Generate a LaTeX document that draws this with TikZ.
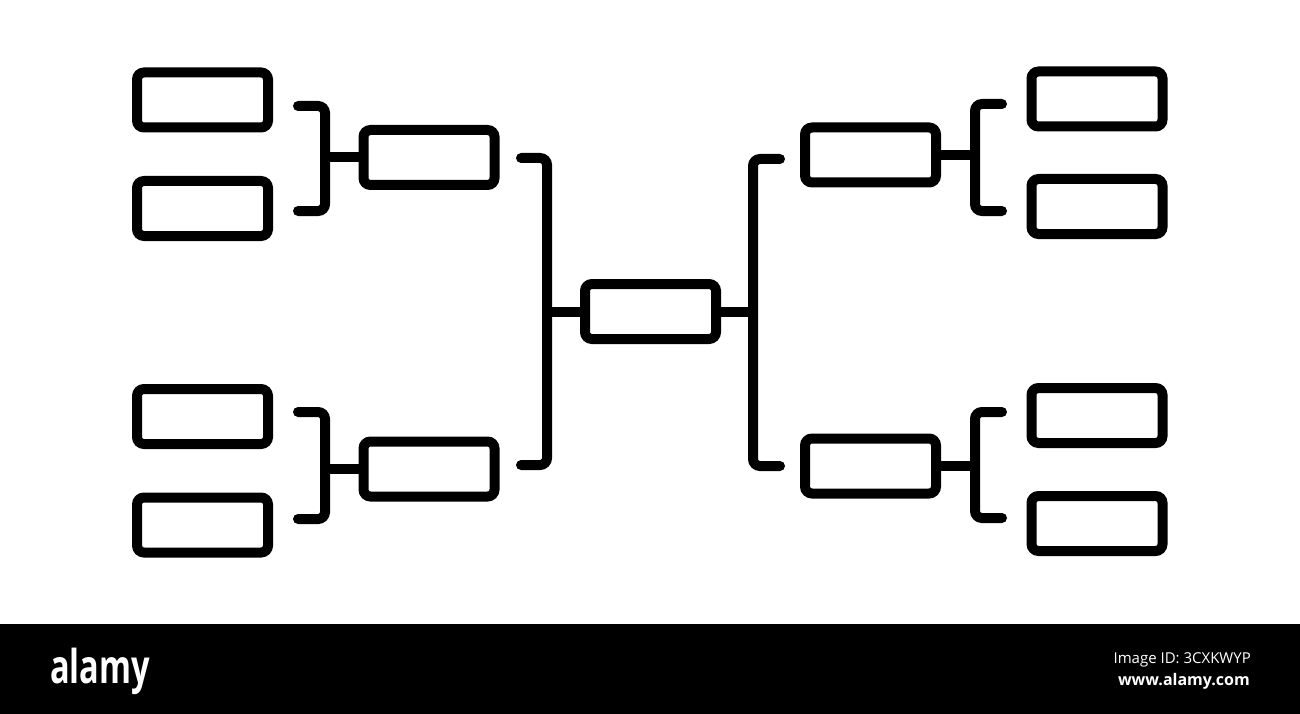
\documentclass[tikz,border=0pt]{standalone}
\usepackage{fontspec}
\setmainfont{Open Sans}
\usepackage{graphicx}
\usetikzlibrary{calc,positioning}

\tikzset{
  slot/.style={draw, line width=10pt, rounded corners=7pt, minimum width=131pt,
    minimum height=55pt, inner sep=0pt},
  bracket/.style={line width=10pt, line cap=round, rounded corners=7pt},
  link/.style={line width=10pt},
}

\begin{document}
\begin{tikzpicture}[x=1pt, y=-1pt]
    \useasboundingbox (0,0) rectangle (1300,714);
    \fill[black] (0,624) rectangle (1300,714);

    % final
    \node[slot] (final) at (650.5,311.5) {};

    % left half
    \node[slot] (semiA) at (429,157.5) {};
    \node[slot] (semiB) at (429,469) {};
    \node[slot] (qa1) at (202.5,100) {};
    \node[slot] (qa2) at (202.5,208.5) {};
    \node[slot] (qb1) at (202.5,416.5) {};
    \node[slot] (qb2) at (202.5,525) {};

    % right half
    \node[slot] (semiC) at (870.5,155) {};
    \node[slot] (semiD) at (870.5,466) {};
    \node[slot] (qc1) at (1097,99) {};
    \node[slot] (qc2) at (1097,206.5) {};
    \node[slot] (qd1) at (1097,415.5) {};
    \node[slot] (qd2) at (1097,523.5) {};

    % bracket joints
    \coordinate (ja) at (325,157.5);
    \coordinate (jb) at (325,469);
    \coordinate (jl) at (547,311.5);
    \coordinate (jr) at (753,311.5);
    \coordinate (jc) at (975,155);
    \coordinate (jd) at (975,466);

    \draw[bracket] (298,106) -| (ja) |- (298,211);
    \draw[bracket] (298,412) -| (jb) |- (298,519);
    \draw[bracket] (521,158) -| (jl) |- (521,465);
    \draw[bracket] (780,159) -| (jr) |- (780,466);
    \draw[bracket] (1002,104) -| (jc) |- (1002,211);
    \draw[bracket] (1002,412) -| (jd) |- (1002,518);

    \draw[link] (ja) -- (semiA.west);
    \draw[link] (jb) -- (semiB.west);
    \draw[link] (jl) -- (final.west);
    \draw[link] (final.east) -- (jr);
    \draw[link] (semiC.east) -- (jc);
    \draw[link] (semiD.east) -- (jd);

    % banner
    \node[anchor=base west, inner sep=0pt, text=white, font=\fontsize{44}{44}\selectfont\bfseries]
      (logo) at (50,683) {\scalebox{0.74}[1.06]{alamy}};
    \node[anchor=base east, inner sep=0pt, text=white, font=\fontsize{15}{15}\selectfont]
      (imgid) at (1251,663) {Image ID: 3CXKWYP};
    \node[anchor=base east, inner sep=0pt, text=white, font=\fontsize{16}{16}\selectfont\bfseries]
      (site) at (1250,685) {www.alamy.com};
\end{tikzpicture}
\end{document}
